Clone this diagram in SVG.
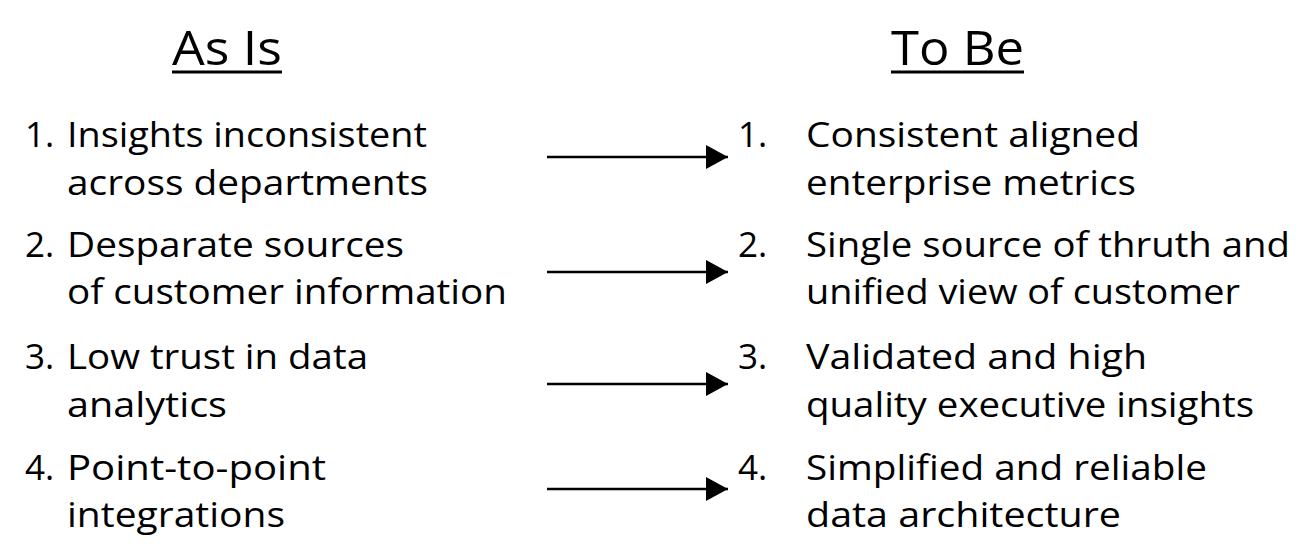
<svg xmlns="http://www.w3.org/2000/svg" width="1313" height="558" viewBox="0 0 1313 558">
<style>
text{font-family:"Open Sans",Lato,sans-serif;fill:#000}
.h{font-size:48px}
.t{font-size:35px}
.c{stroke:#000;stroke-width:2.5;fill:none}
.u{stroke:#000;stroke-width:3}
</style>
<defs>
<marker id="a" markerUnits="userSpaceOnUse" markerWidth="24" markerHeight="26" refX="22" refY="12" orient="auto"><path d="M0,0 L22,12 L0,24 Z" fill="#000"/></marker>
</defs>
<rect width="1313" height="558" fill="#fff"/>
<g id="asis-head"><text class="h" x="172" y="65" textLength="110" lengthAdjust="spacingAndGlyphs">As Is</text><line class="u" x1="172" y1="72" x2="282" y2="72"/></g>
<g id="tobe-head"><text class="h" x="891" y="65" textLength="133" lengthAdjust="spacingAndGlyphs">To Be</text><line class="u" x1="891" y1="72" x2="1024" y2="72"/></g>
<g id="l1"><text class="t" x="25" y="147">1.</text><text class="t" x="67" y="147" textLength="360" lengthAdjust="spacingAndGlyphs">Insights inconsistent</text><text class="t" x="67" y="195" textLength="361" lengthAdjust="spacingAndGlyphs">across departments</text></g>
<g id="l2"><text class="t" x="25" y="257">2.</text><text class="t" x="67" y="257" textLength="337" lengthAdjust="spacingAndGlyphs">Desparate sources</text><text class="t" x="67" y="304" textLength="440" lengthAdjust="spacingAndGlyphs">of customer information</text></g>
<g id="l3"><text class="t" x="25" y="369">3.</text><text class="t" x="67" y="369" textLength="301" lengthAdjust="spacingAndGlyphs">Low trust in data</text><text class="t" x="67" y="417" textLength="160" lengthAdjust="spacingAndGlyphs">analytics</text></g>
<g id="l4"><text class="t" x="25" y="480">4.</text><text class="t" x="67" y="480" textLength="259" lengthAdjust="spacingAndGlyphs">Point-to-point</text><text class="t" x="67" y="527" textLength="218" lengthAdjust="spacingAndGlyphs">integrations</text></g>
<g id="r1"><text class="t" x="738" y="147">1.</text><text class="t" x="806" y="147" textLength="334" lengthAdjust="spacingAndGlyphs">Consistent aligned</text><text class="t" x="806" y="195" textLength="330" lengthAdjust="spacingAndGlyphs">enterprise metrics</text></g>
<g id="r2"><text class="t" x="738" y="257">2.</text><text class="t" x="806" y="257" textLength="484" lengthAdjust="spacingAndGlyphs">Single source of thruth and</text><text class="t" x="806" y="304" textLength="434" lengthAdjust="spacingAndGlyphs">unified view of customer</text></g>
<g id="r3"><text class="t" x="738" y="369">3.</text><text class="t" x="806" y="369" textLength="341" lengthAdjust="spacingAndGlyphs">Validated and high</text><text class="t" x="806" y="417" textLength="448" lengthAdjust="spacingAndGlyphs">quality executive insights</text></g>
<g id="r4"><text class="t" x="738" y="480">4.</text><text class="t" x="806" y="480" textLength="401" lengthAdjust="spacingAndGlyphs">Simplified and reliable</text><text class="t" x="806" y="527" textLength="315" lengthAdjust="spacingAndGlyphs">data architecture</text></g>
<g id="connectors">
<line class="c" x1="547" y1="157" x2="728" y2="157" marker-end="url(#a)"/>
<line class="c" x1="547" y1="272" x2="728" y2="272" marker-end="url(#a)"/>
<line class="c" x1="547" y1="384" x2="728" y2="384" marker-end="url(#a)"/>
<line class="c" x1="547" y1="489" x2="728" y2="489" marker-end="url(#a)"/>
</g>
</svg>
